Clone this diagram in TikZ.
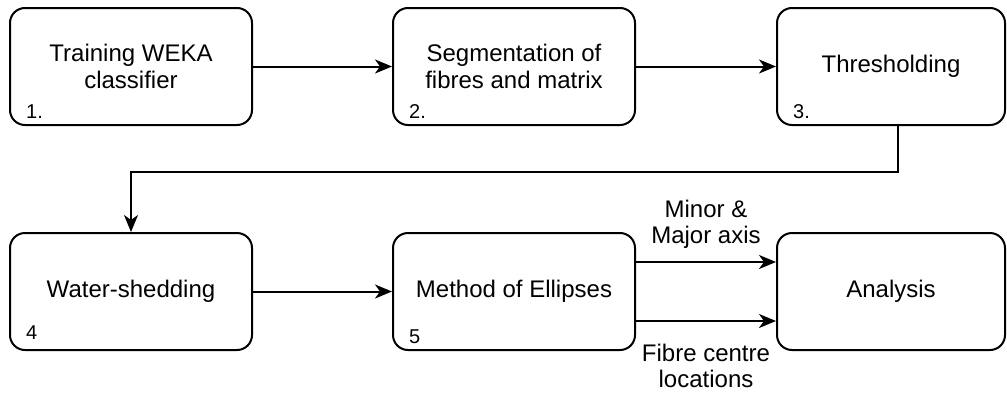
\documentclass[tikz,border=0pt]{standalone}
\usepackage{fontspec}
\setmainfont{Liberation Sans}
\usetikzlibrary{arrows.meta}
\begin{document}
\begin{tikzpicture}[x=1pt,y=-1pt,
    stepbox/.style={draw,line width=2pt,rounded corners=15pt,minimum height=117pt,
      align=center,font=\fontsize{24}{27}\selectfont},
    numlabel/.style={anchor=base west,inner sep=0pt,font=\fontsize{20}{22}\selectfont},
    flowarrow/.style={line width=2pt,-{Stealth[length=17pt,width=14pt,inset=5pt]}},
    edgelabel/.style={align=center,inner sep=0pt,font=\fontsize{24}{26}\selectfont}]
        \useasboundingbox (0,0) rectangle (1007,394);
        % top row
        \node[stepbox,minimum width=242pt] (train) at (131,66.5) {Training WEKA\\classifier};
        \node[stepbox,minimum width=242pt] (segment) at (514,66.5) {Segmentation of\\fibres and matrix};
        \node[stepbox,minimum width=228pt] (thresh) at (891,66.5) {Thresholding};
        % bottom row
        \node[stepbox,minimum width=242pt] (water) at (131,291.5) {Water-shedding};
        \node[stepbox,minimum width=242pt] (ellipse) at (514,291.5) {Method of Ellipses};
        \node[stepbox,minimum width=228pt] (analysis) at (891,291.5) {Analysis};
        % step numbers
        \node[numlabel] at ([xshift=17pt,yshift=8pt]train.south west) {1.};
        \node[numlabel] at ([xshift=17pt,yshift=8pt]segment.south west) {2.};
        \node[numlabel] at ([xshift=17pt,yshift=8pt]thresh.south west) {3.};
        \node[numlabel] at ([xshift=17pt,yshift=12pt]water.south west) {4};
        \node[numlabel] at ([xshift=17pt,yshift=8pt]ellipse.south west) {5};
        % connectors
        \draw[flowarrow] (train) -- (segment);
        \draw[flowarrow] (segment) -- (thresh);
        \coordinate (turn) at (0,172);
        \draw[flowarrow] ([xshift=7pt]thresh.south) |- (turn -| water.north) -- (water.north);
        \draw[flowarrow] (water) -- (ellipse);
        \draw[flowarrow] ([yshift=29.5pt]ellipse.east) -- ([yshift=29.5pt]analysis.west)
            node[edgelabel,midway,above=13pt] {Minor \&\\Major axis};
        \draw[flowarrow] ([yshift=-29.5pt]ellipse.east) -- ([yshift=-29.5pt]analysis.west)
            node[edgelabel,midway,below=22pt] {Fibre centre\\locations};
\end{tikzpicture}
\end{document}
